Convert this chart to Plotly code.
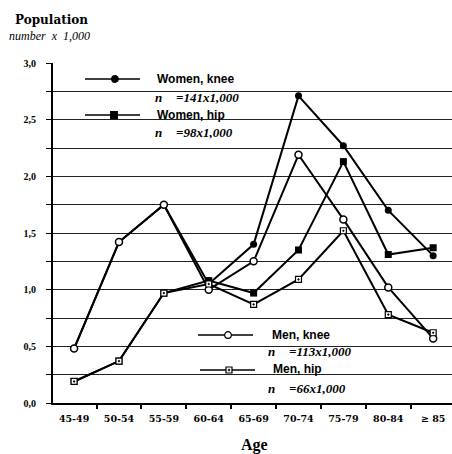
import plotly.graph_objects as go

ages = ["45-49", "50-54", "55-59", "60-64", "65-69", "70-74", "75-79", "80-84", "≥ 85"]
women_knee = [0.48, 1.42, 1.75, 1.05, 1.40, 2.71, 2.27, 1.70, 1.30]
women_hip = [0.19, 0.37, 0.97, 1.08, 0.97, 1.35, 2.13, 1.31, 1.37]
men_knee = [0.48, 1.42, 1.75, 1.00, 1.25, 2.19, 1.62, 1.02, 0.57]
men_hip = [0.19, 0.37, 0.97, 1.05, 0.87, 1.09, 1.52, 0.78, 0.62]

y_tick_vals = [0, 0.25, 0.5, 0.75, 1.0, 1.25, 1.5, 1.75, 2.0, 2.25, 2.5, 2.75, 3.0]
y_tick_text = ["0,0", "", "0,5", "", "1,0", "", "1,5", "", "2,0", "", "2,5", "", "3,0"]

legend_top = [("Women, knee", "=141x1,000"), ("Women, hip", "=98x1,000")]
legend_bottom = [("Men, knee", "=113x1,000"), ("Men, hip", "=66x1,000")]

W, H = 452, 454
L, R, T, B = 53, 452, 63, 403


def px(x):
    return (x - L) / (R - L)


def py(y):
    return (B - y) / (B - T)


fig = go.Figure()

line_style = dict(color="black", width=2)
fig.add_trace(go.Scatter(x=ages, y=women_knee, mode="lines+markers", line=line_style,
                         marker=dict(symbol="circle", size=7, color="black")))
fig.add_trace(go.Scatter(x=ages, y=women_hip, mode="lines+markers", line=line_style,
                         marker=dict(symbol="square", size=7, color="black")))
fig.add_trace(go.Scatter(x=ages, y=men_knee, mode="lines+markers", line=line_style,
                         marker=dict(symbol="circle", size=7, color="white",
                                     line=dict(color="black", width=1.5))))
fig.add_trace(go.Scatter(x=ages, y=men_hip, mode="lines+markers", line=line_style,
                         marker=dict(symbol="square-dot", size=6, color="white",
                                     line=dict(color="black", width=1.2))))

shapes = []
# white boxes behind legends (hide gridlines)
shapes.append(dict(type="rect", xref="paper", yref="paper", x0=px(70), x1=px(265),
                   y0=py(142), y1=py(69), fillcolor="white", line=dict(width=0), layer="between"))
shapes.append(dict(type="rect", xref="paper", yref="paper", x0=px(182), x1=px(375),
                   y0=py(397), y1=py(327), fillcolor="white", line=dict(width=0), layer="between"))


def legend_line(x0, x1, y):
    shapes.append(dict(type="line", xref="paper", yref="paper", x0=px(x0), x1=px(x1),
                       y0=py(y), y1=py(y), line=dict(color="black", width=1.5), layer="above"))


def legend_marker(kind, cx, cy, r):
    fill = "black" if kind in ("fc", "fs") else "white"
    t = "circle" if kind in ("fc", "oc") else "rect"
    shapes.append(dict(type=t, xref="paper", yref="paper", x0=px(cx - r), x1=px(cx + r),
                       y0=py(cy + r), y1=py(cy - r), fillcolor=fill,
                       line=dict(color="black", width=1.2), layer="above"))
    if kind == "os":
        shapes.append(dict(type="circle", xref="paper", yref="paper", x0=px(cx - 1), x1=px(cx + 1),
                           y0=py(cy + 1), y1=py(cy - 1), fillcolor="black",
                           line=dict(color="black", width=0.5), layer="above"))


legend_line(85, 140, 79)
legend_marker("fc", 115, 79, 3.3)
legend_line(85, 140, 115)
legend_marker("fs", 114, 115, 3.3)
legend_line(198, 253, 335)
legend_marker("oc", 228, 335, 3.3)
legend_line(200, 255, 370)
legend_marker("os", 229, 370, 3)

annotations = []
sans_bold = dict(family="Liberation Sans", size=12, color="black", weight="bold")
serif_it = dict(family="Liberation Serif", size=13, color="black", weight="bold", style="italic")


def legend_text(x, y, name, nval, nx, ny, eqx):
    annotations.append(dict(x=px(x), y=py(y), xref="paper", yref="paper", text=name,
                            showarrow=False, xanchor="left", yanchor="middle", font=sans_bold))
    annotations.append(dict(x=px(nx), y=py(ny), xref="paper", yref="paper", text="n",
                            showarrow=False, xanchor="left", yanchor="middle", font=serif_it))
    annotations.append(dict(x=px(eqx), y=py(ny), xref="paper", yref="paper", text=nval,
                            showarrow=False, xanchor="left", yanchor="middle", font=serif_it))


legend_text(155, 79, legend_top[0][0], legend_top[0][1], 153, 97, 174)
legend_text(155, 115, legend_top[1][0], legend_top[1][1], 153, 132, 174)
legend_text(270, 335, legend_bottom[0][0], legend_bottom[0][1], 266, 351, 287)
legend_text(271, 369, legend_bottom[1][0], legend_bottom[1][1], 266, 388, 287)

annotations.append(dict(x=px(13), y=py(20), xref="paper", yref="paper", text="Population",
                        showarrow=False, xanchor="left", yanchor="middle",
                        font=dict(family="DejaVu Serif", size=12, color="black", weight="bold")))
annotations.append(dict(x=px(7), y=py(36), xref="paper", yref="paper", text="number  x  1,000",
                        showarrow=False, xanchor="left", yanchor="middle",
                        font=dict(family="Liberation Serif", size=12, color="black", style="italic")))
annotations.append(dict(x=px(254), y=py(445), xref="paper", yref="paper", text="Age",
                        showarrow=False, xanchor="center", yanchor="middle",
                        font=dict(family="Liberation Serif", size=16, color="black", weight="bold")))

fig.update_layout(
    width=W, height=H,
    margin=dict(l=L, r=W - R, t=T, b=H - B, pad=0),
    plot_bgcolor="white", paper_bgcolor="white",
    showlegend=False,
    shapes=shapes, annotations=annotations,
    xaxis=dict(type="category", range=[-0.47, 8.42], showgrid=False, zeroline=False,
               showline=True, linecolor="black", linewidth=2,
               ticks="outside", tickson="boundaries", ticklen=4, tickwidth=1.5, tickcolor="black",
               tickfont=dict(family="DejaVu Serif", size=9.5, color="black", weight="bold"),
               ticklabelstandoff=6),
    yaxis=dict(range=[0, 3.0], tickmode="array", tickvals=y_tick_vals, ticktext=y_tick_text,
               showgrid=True, gridcolor="#222", gridwidth=1, zeroline=False,
               showline=True, linecolor="black", linewidth=2,
               ticks="outside", ticklen=5, tickwidth=1.2, tickcolor="black",
               tickfont=dict(family="Liberation Serif", size=10, color="black", weight="bold"),
               ticklabelstandoff=8),
)

fig.write_html("out.html", config={"displayModeBar": False})
